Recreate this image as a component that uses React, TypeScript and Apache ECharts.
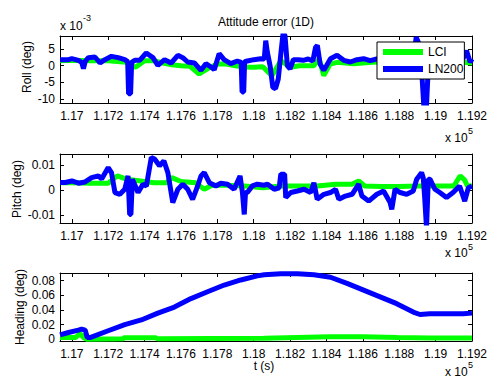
import React, { useEffect, useRef } from "react";
import * as echarts from "echarts";

const FONT = "'Liberation Sans', Arial, Helvetica, sans-serif";

// x axis (t in s)
const X_MIN = 116935;
const X_MAX = 119200;
const xTicks = [117000, 117200, 117400, 117600, 117800, 118000, 118200, 118400, 118600, 118800, 119000, 119200];
const xTickLabels = ["1.17", "1.172", "1.174", "1.176", "1.178", "1.18", "1.182", "1.184", "1.186", "1.188", "1.19", "1.192"];

// Roll (x 1e-3 deg)
const rollTicks = [-10, -5, 0, 5];
const rollTickLabels = ["-10", "-5", "0", "5"];
const rollLCI: [number, number][] = [
  [116935, 1.5], [117000, 1.6], [117100, 1.5], [117200, 1.5], [117300, 1.0], [117350, -0.5],
  [117400, 1.5], [117450, 1.5], [117500, 0.8], [117550, 0.3], [117600, 0.0], [117650, -0.2],
  [117700, -2.5], [117750, -0.8], [117800, 0.5], [117850, 0.5], [117900, 0.0], [117950, -0.4],
  [118000, -0.5], [118050, -0.3], [118100, -3.0], [118150, 1.5], [118200, -0.5], [118250, 0.0],
  [118330, 0.0], [118360, 2.0], [118385, -3.0], [118420, 0.5], [118460, 1.0], [118550, 0.6],
  [118650, 1.0], [118750, 1.2], [118850, 1.0], [118950, 1.2], [119050, 1.2], [119150, 1.0], [119200, 0.8],
];
const rollLN200: [number, number][] = [
  [116935, 1.8], [116982, 1.8], [117000, 2.1], [117036, 1.6], [117054, 1.0], [117064, -0.9],
  [117073, 1.2], [117091, 2.4], [117127, 2.6], [117155, 0.8], [117182, 1.8], [117218, 2.8],
  [117255, 2.4], [117291, 1.8], [117307, 1.2], [117312, -8.4], [117323, -8.4], [117329, 1.0],
  [117346, 1.6], [117373, 1.6], [117409, 3.8], [117446, 2.4], [117473, 0.1], [117510, 1.8],
  [117546, 0.8], [117583, 3.1], [117610, 2.4], [117637, 1.1], [117674, 0.8], [117710, -1.4],
  [117737, 0.6], [117765, -0.4], [117783, -1.2], [117810, 3.6], [117837, 1.8], [117874, 0.6],
  [117910, 1.4], [117931, 1.0], [117936, -7.9], [117945, -7.9], [117950, 1.2], [117965, 1.4],
  [118001, 1.8], [118038, 2.1], [118058, 2.0], [118066, 7.5], [118075, 4.0], [118090, 0.0],
  [118105, -6.5], [118120, -6.9], [118135, -4.0], [118150, 4.0], [118162, 10.0], [118172, 9.0],
  [118185, 0.0], [118200, -1.0], [118218, 1.8], [118245, 1.8], [118272, 1.6], [118300, 2.0],
  [118325, 1.4], [118340, 5.5], [118350, 6.1], [118365, 0.5], [118385, -1.4], [118400, 0.0],
  [118422, 2.1], [118458, 3.1], [118495, 1.6], [118531, 1.1], [118568, 1.8], [118604, 2.1],
  [118640, 1.5], [118676, 2.0], [118740, 1.6], [118800, 2.0], [118850, 1.8], [118880, 2.0],
  [118893, 8.5], [118905, 7.0], [118915, 2.0], [118925, -3.0], [118935, -12.0], [118950, -12.0],
  [118960, 0.0], [118975, 2.0], [119000, 2.0], [119050, 2.2], [119100, 2.5], [119150, 2.0],
  [119170, 4.5], [119190, 1.0], [119200, 2.0],
];

// Pitch (deg)
const pitchTicks = [-0.01, 0, 0.01];
const pitchTickLabels = ["-0.01", "0", "0.01"];
const pitchLCI: [number, number][] = [
  [116935, 0.003], [117000, 0.003], [117100, 0.0028], [117200, 0.0028], [117250, 0.0057],
  [117300, 0.0044], [117400, 0.0035], [117450, 0.003], [117520, 0.003], [117550, 0.005],
  [117600, 0.0035], [117680, 0.003], [117728, 0.0004], [117770, 0.002], [117850, 0.002],
  [117950, 0.0017], [118050, 0.001], [118150, 0.0017], [118250, 0.0017], [118350, 0.0017],
  [118450, 0.0024], [118540, 0.0024], [118577, 0.0037], [118610, 0.0017], [118700, 0.0015],
  [118800, 0.0015], [118900, 0.0017], [119000, 0.0017], [119100, 0.0017], [119135, 0.0057],
  [119160, 0.004], [119175, 0.0017], [119200, 0.0017],
];
const pitchLN200: [number, number][] = [
  [116935, 0.0031], [116964, 0.0031], [117000, 0.0037], [117036, 0.0028], [117073, 0.0033],
  [117109, 0.005], [117146, 0.0057], [117164, 0.0045], [117200, 0.009], [117218, 0.007],
  [117237, -0.0009], [117264, -0.0016], [117291, 0.0004], [117309, 0.0057], [117318, -0.0096],
  [117325, -0.0096], [117333, 0.0044], [117364, -0.0009], [117391, 0.0024], [117410, 0.0017],
  [117437, 0.013], [117455, 0.0124], [117482, 0.0097], [117506, 0.0117], [117528, 0.007],
  [117555, -0.0049], [117583, 0.0004], [117610, 0.0024], [117637, 0.0004], [117664, -0.0036],
  [117692, 0.0017], [117710, 0.0057], [117728, 0.007], [117756, 0.003], [117792, 0.0017],
  [117819, 0.0028], [117856, 0.0024], [117892, 0.0004], [117925, 0.0057], [117938, -0.0009],
  [117948, -0.0096], [117955, -0.0009], [117965, -0.0009], [117992, 0.0017], [118020, 0.0024],
  [118056, 0.002], [118076, 0.0024], [118113, 0.0004], [118140, 0.001], [118149, 0.0064],
  [118170, 0.0064], [118176, -0.0029], [118204, -0.0009], [118240, -0.0003], [118277, 0.0004],
  [118313, -0.0009], [118331, 0.003], [118349, -0.0036], [118386, -0.0016], [118422, -0.0009],
  [118450, 0.0004], [118468, -0.0036], [118504, -0.0023], [118541, -0.0016], [118577, 0.0024],
  [118595, -0.0023], [118632, -0.0043], [118677, -0.0016], [118714, -0.0003], [118750, -0.0049],
  [118759, -0.0076], [118777, 0.0004], [118805, -0.0009], [118841, -0.0016], [118877, -0.0003],
  [118896, 0.0044], [118923, 0.007], [118932, 0.005], [118940, -0.003], [118950, -0.015],
  [118960, 0.0044], [118969, 0.0044], [118996, 0.0004], [119023, -0.0009], [119060, -0.0029],
  [119096, -0.0009], [119132, 0.0017], [119160, -0.0043], [119180, 0.001], [119200, 0.0017],
];

// Heading (deg)
const headingTicks = [0, 0.02, 0.04, 0.06, 0.08];
const headingTickLabels = ["0", "0.02", "0.04", "0.06", "0.08"];
const headingLCI: [number, number][] = [
  [116935, 0.0023], [117020, 0.0023], [117045, 0.0078], [117065, 0.0023], [117080, 0.0],
  [117280, 0.0005], [117290, 0.0022], [117460, 0.0022], [117470, 0.0008], [118058, 0.0012],
  [118240, 0.0025], [118420, 0.0035], [118600, 0.0033], [118790, 0.0025], [118970, 0.0018],
  [119200, 0.0018],
];
const headingLN200: [number, number][] = [
  [116935, 0.006], [116982, 0.0092], [117036, 0.0125], [117054, 0.0139], [117073, 0.0125],
  [117085, 0.0023], [117100, 0.0023], [117200, 0.0116], [117291, 0.0199], [117382, 0.0263],
  [117473, 0.0356], [117564, 0.0439], [117655, 0.0554], [117746, 0.0647], [117838, 0.0739],
  [117929, 0.0808], [118020, 0.0864], [118058, 0.0878], [118149, 0.0892], [118240, 0.0892],
  [118331, 0.0878], [118422, 0.0845], [118513, 0.0762], [118604, 0.067], [118695, 0.0578],
  [118786, 0.0485], [118877, 0.037], [118914, 0.0337], [118968, 0.0347], [119060, 0.0347],
  [119151, 0.0347], [119200, 0.0356],
];

const GREEN = "#00ff00";
const BLUE = "#0000ff";

function labelFor(ticks: number[], labels: string[]) {
  return (v: number) => {
    const i = ticks.findIndex((t) => Math.abs(t - v) < 1e-9 * Math.max(1, Math.abs(t)));
    return i >= 0 ? labels[i] : "";
  };
}

export default function App() {
  const ref = useRef<HTMLDivElement>(null);
  useEffect(() => {
    if (!ref.current) return;
    const chart = echarts.init(ref.current, undefined, { renderer: "svg" });

    const grids = [
      { left: 60, top: 36, width: 413, height: 67 },
      { left: 60, top: 154, width: 413, height: 69 },
      { left: 60, top: 273, width: 413, height: 68 },
    ];
    const yDefs = [
      { min: -11.2, max: 8.9, ticks: rollTicks, labels: rollTickLabels },
      { min: -0.013, max: 0.0144, ticks: pitchTicks, labels: pitchTickLabels },
      { min: -0.0024, max: 0.0903, ticks: headingTicks, labels: headingTickLabels },
    ];
    const seriesData = [
      [rollLCI, rollLN200],
      [pitchLCI, pitchLN200],
      [headingLCI, headingLN200],
    ];

    const axisLine = { show: true, onZero: false, lineStyle: { color: "#000", width: 1 } };
    const labelStyle = { color: "#000", fontSize: 12, fontFamily: FONT };

    const xAxis: any[] = [];
    const yAxis: any[] = [];
    const series: any[] = [];
    grids.forEach((g, i) => {
      const xl = labelFor(xTicks, xTickLabels);
      xAxis.push({
        type: "value", gridIndex: i, position: "bottom", min: X_MIN, max: X_MAX,
        axisLine, splitLine: { show: false },
        axisTick: { show: true, inside: true, length: 4, customValues: xTicks, lineStyle: { color: "#000" } },
        axisLabel: { ...labelStyle, margin: 7, customValues: xTicks, formatter: xl, showMinLabel: true, showMaxLabel: true },
      });
      xAxis.push({
        type: "value", gridIndex: i, position: "top", min: X_MIN, max: X_MAX,
        axisLine, splitLine: { show: false },
        axisTick: { show: true, inside: true, length: 4, customValues: xTicks, lineStyle: { color: "#000" } },
        axisLabel: { show: false },
      });
      const d = yDefs[i];
      const yl = labelFor(d.ticks, d.labels);
      yAxis.push({
        type: "value", gridIndex: i, position: "left", min: d.min, max: d.max,
        axisLine, splitLine: { show: false },
        axisTick: { show: true, inside: true, length: 4, customValues: d.ticks, lineStyle: { color: "#000" } },
        axisLabel: { ...labelStyle, margin: 5, customValues: d.ticks, formatter: yl },
      });
      yAxis.push({
        type: "value", gridIndex: i, position: "right", min: d.min, max: d.max,
        axisLine, splitLine: { show: false },
        axisTick: { show: true, inside: true, length: 4, customValues: d.ticks, lineStyle: { color: "#000" } },
        axisLabel: { show: false },
      });
      const names = ["LCI", "LN200"];
      const colors = [GREEN, BLUE];
      seriesData[i].forEach((data, k) => {
        series.push({
          type: "line", name: names[k], xAxisIndex: 2 * i, yAxisIndex: 2 * i,
          data, showSymbol: false, symbol: "none", color: colors[k],
          lineStyle: { color: colors[k], width: 5 }, clip: true, z: 2 + k,
        });
      });
    });

    const t = (x: number, y: number, text: string, extra: any = {}) => ({
      type: "text", x, y, silent: true,
      style: { text, fill: "#000", fontSize: 12, fontFamily: FONT, align: "center", verticalAlign: "middle", ...extra },
    });

    const graphic: any[] = [
      t(266, 22, "Attitude error (1D)"),
      t(60, 26, "x 10", { align: "left" }),
      t(83, 18, "-3", { align: "left", fontSize: 9 }),
      t(445, 138, "x 10", { align: "left" }),
      t(468, 131, "5", { align: "left", fontSize: 9 }),
      t(445, 253, "x 10", { align: "left" }),
      t(468, 246.5, "5", { align: "left", fontSize: 9 }),
      t(445, 372, "x 10", { align: "left" }),
      t(468, 364.5, "5", { align: "left", fontSize: 9 }),
      t(264, 366, "t (s)"),
      { ...t(27, 67, "Roll (deg)"), rotation: Math.PI / 2 },
      { ...t(17, 189, "Pitch (deg)"), rotation: Math.PI / 2 },
      { ...t(20, 307, "Heading (deg)"), rotation: Math.PI / 2 },
    ];

    chart.setOption({
      animation: false,
      backgroundColor: "#fff",
      grid: grids.map((g) => ({ ...g, containLabel: false })),
      xAxis, yAxis, series, graphic,
      legend: {
        data: ["LCI", "LN200"],
        orient: "vertical", left: 377, top: 42,
        icon: "rect", itemWidth: 40, itemHeight: 6, itemGap: 5,
        padding: [4, 1, 4, 6],
        borderColor: "#000", borderWidth: 1, backgroundColor: "#fff",
        textStyle: { color: "#000", fontSize: 12, fontFamily: FONT },
        selectedMode: false, z: 10,
      },
    });
    return () => chart.dispose();
  }, []);
  return (
    <div
      ref={ref}
      style={{ position: "fixed", left: 0, top: 0, width: 490, height: 378, background: "#fff" }}
    />
  );
}
